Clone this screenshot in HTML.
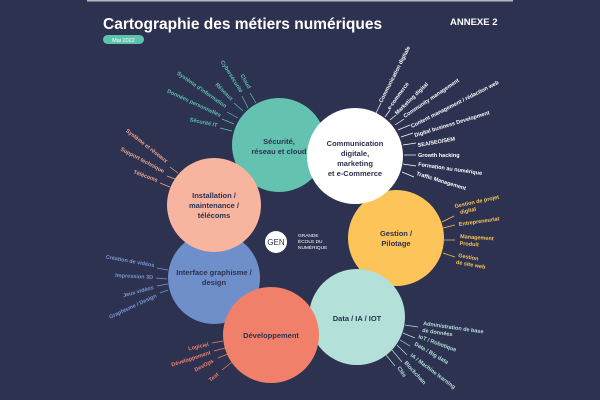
<!DOCTYPE html>
<html><head><meta charset="utf-8"><style>
html,body{margin:0;padding:0;background:#2c3250;}
svg{display:block;font-family:"Liberation Sans",sans-serif;font-weight:bold;}
</style></head><body>
<svg width="600" height="400" viewBox="0 0 600 400" xmlns="http://www.w3.org/2000/svg">
<rect width="600" height="400" fill="#2c3250"/>
<rect x="87" y="0" width="426" height="1.5" fill="#b8b8b8"/>
<text x="103" y="29" fill="#fff" font-size="15.5">Cartographie des métiers numériques</text>
<text x="450" y="25" fill="#fff" font-size="9.5">ANNEXE 2</text>
<rect x="103" y="35" width="41" height="9" rx="4.5" fill="#5cc4ad"/>
<text x="123.5" y="42" fill="#fff" font-size="5.5" font-weight="normal" text-anchor="middle">Mai 2022</text>

<g stroke-width="0.7">
<g stroke="#5cc4ad"><line x1="250" y1="93" x2="256" y2="103"/><line x1="242" y1="96" x2="248" y2="108"/><line x1="234" y1="103" x2="243" y2="111"/><line x1="227" y1="112" x2="238" y2="118"/><line x1="222" y1="119" x2="234" y2="124"/><line x1="220" y1="128" x2="232" y2="131"/></g>
<g stroke="#f4a58a"><line x1="170" y1="167" x2="178" y2="173"/><line x1="167" y1="176" x2="175" y2="179"/><line x1="160" y1="183" x2="170" y2="187"/></g>
<g stroke="#7b9ad3"><line x1="157" y1="268" x2="168" y2="270"/><line x1="156" y1="278" x2="167" y2="279"/><line x1="157" y1="286" x2="168" y2="284"/><line x1="160" y1="293" x2="168" y2="290"/></g>
<g stroke="#f0806a"><line x1="212" y1="343" x2="223" y2="341"/><line x1="214" y1="351" x2="225" y2="348"/><line x1="218" y1="358" x2="228" y2="354"/><line x1="222" y1="370" x2="232" y2="362"/></g>
<g stroke="#b3e0d8"><line x1="405" y1="325" x2="418" y2="327"/><line x1="403" y1="333" x2="415" y2="338"/><line x1="400" y1="340" x2="410" y2="346"/><line x1="397" y1="345" x2="407" y2="355"/><line x1="392" y1="350" x2="402" y2="362"/><line x1="386" y1="355" x2="395" y2="366"/></g>
<g stroke="#fdc45a"><line x1="442" y1="222" x2="454" y2="216"/><line x1="443" y1="228" x2="455" y2="225"/><line x1="443" y1="240" x2="455" y2="240"/><line x1="443" y1="253" x2="455" y2="257"/></g>
<g stroke="#fff"><line x1="376" y1="113" x2="381" y2="103"/><line x1="385" y1="117" x2="390" y2="110"/><line x1="390" y1="120" x2="396" y2="115"/><line x1="395" y1="125" x2="404" y2="119"/><line x1="398" y1="130" x2="410" y2="125"/><line x1="401" y1="137" x2="413" y2="133"/><line x1="403" y1="145" x2="416" y2="143"/><line x1="404" y1="155" x2="416" y2="155"/><line x1="403" y1="164" x2="416" y2="166"/><line x1="402" y1="172" x2="414" y2="177"/></g>
</g>

<g font-size="5.5">
<g fill="#5cc4ad" text-anchor="end">
<text transform="translate(248,89) rotate(60)">Cloud</text>
<text transform="translate(240,93) rotate(58)">Cybersécurité</text>
<text transform="translate(231,101) rotate(45)">Réseaux</text>
<text transform="translate(225,108) rotate(35)">Système d'information</text>
<text transform="translate(220,117) rotate(25)">Données personnelles</text>
<text transform="translate(217,127) rotate(12)">Sécurité IT</text>
</g>
<g fill="#f4a58a" text-anchor="end">
<text transform="translate(166,163) rotate(38)">Système et réseaux</text>
<text transform="translate(163,173) rotate(28)">Support technique</text>
<text transform="translate(157,182) rotate(20)">Télécoms</text>
</g>
<g fill="#7b9ad3" text-anchor="end">
<text transform="translate(154,267) rotate(10)">Création de vidéos</text>
<text transform="translate(153,279) rotate(3)">Impression 3D</text>
<text transform="translate(154,289) rotate(-15)">Jeux vidéos</text>
<text transform="translate(157,297) rotate(-25)">Graphisme / Design</text>
</g>
<g fill="#f0806a" text-anchor="end">
<text transform="translate(209,346) rotate(-12)">Logiciel</text>
<text transform="translate(211,354) rotate(-18)">Développement</text>
<text transform="translate(214,362) rotate(-28)">DevOps</text>
<text transform="translate(219,375) rotate(-40)">Test</text>
</g>
<g fill="#b3e0d8">
<text transform="translate(423,325) rotate(8)">Administration de base<tspan x="0" dy="7">de données</tspan></text>
<text transform="translate(418,338) rotate(20)">IoT / Robotique</text>
<text transform="translate(414,345) rotate(30)">Data / Big data</text>
<text transform="translate(410,356) rotate(37)">IA / Machine learning</text>
<text transform="translate(404,363) rotate(48)">Blockchain</text>
<text transform="translate(397,368) rotate(55)">Clés</text>
</g>
<g fill="#fdc45a">
<text transform="translate(455,208) rotate(-12)">Gestion de projet<tspan x="4" dy="7">digital</tspan></text>
<text transform="translate(459,226) rotate(-8)">Entrepreneuriat</text>
<text transform="translate(460,238) rotate(4)">Management<tspan x="0" dy="7">Produit</tspan></text>
<text transform="translate(458,257) rotate(10)">Gestion<tspan x="-1" dy="7">de site web</tspan></text>
</g>
<g fill="#fff">
<text transform="translate(382,103) rotate(-63)">Communication digitale</text>
<text transform="translate(390,110) rotate(-54)">e-commerce</text>
<text transform="translate(397,115) rotate(-44)">Marketing digital</text>
<text transform="translate(405,118) rotate(-34)">Community management</text>
<text transform="translate(412,128) rotate(-27)">Content management / rédaction web</text>
<text transform="translate(415,137) rotate(-17)">Digital business Development</text>
<text transform="translate(418,147) rotate(-10)">SEA/SEO/SEM</text>
<text transform="translate(418,157)">Growth hacking</text>
<text transform="translate(418,166) rotate(8)">Formation au numérique</text>
<text transform="translate(416,175) rotate(17)">Traffic Management</text>
</g>
</g>

<circle cx="279" cy="145" r="47" fill="#63c3b0"/>
<circle cx="396" cy="238" r="48" fill="#fdc45a"/>
<circle cx="357" cy="317" r="48" fill="#b3e0d8"/>
<circle cx="214" cy="278" r="46" fill="#6e8fc9"/>
<circle cx="214" cy="205" r="47" fill="#f7b49e"/>
<circle cx="271" cy="335" r="48" fill="#f0806a"/>
<circle cx="355" cy="156" r="48" fill="#ffffff"/>

<g fill="#2c3250" font-size="7.5" text-anchor="middle">
<text x="279" y="144">Sécurité,<tspan x="279" dy="10">réseau et cloud</tspan></text>
<text x="355" y="146">Communication<tspan x="355" dy="10">digitale,</tspan><tspan x="355" dy="10">marketing</tspan><tspan x="355" dy="10">et e-Commerce</tspan></text>
<text x="214" y="198">Installation /<tspan x="214" dy="10">maintenance /</tspan><tspan x="214" dy="10">télécoms</tspan></text>
<text x="214" y="275">Interface graphisme /<tspan x="214" dy="10">design</tspan></text>
<text x="396" y="236">Gestion /<tspan x="396" dy="10">Pilotage</tspan></text>
<text x="357" y="321">Data / IA / IOT</text>
<text x="271" y="338">Développement</text>
</g>

<circle cx="276" cy="242" r="11" fill="#fff"/>
<text x="276" y="245" fill="#2c3250" font-size="8" font-weight="normal" text-anchor="middle">GEN</text>
<g fill="#fff" font-size="4.8" font-weight="normal">
<text x="298" y="237">GRANDE</text><text x="298" y="243">ÉCOLE DU</text><text x="298" y="249">NUMÉRIQUE</text>
</g>
</svg>
</body></html>
